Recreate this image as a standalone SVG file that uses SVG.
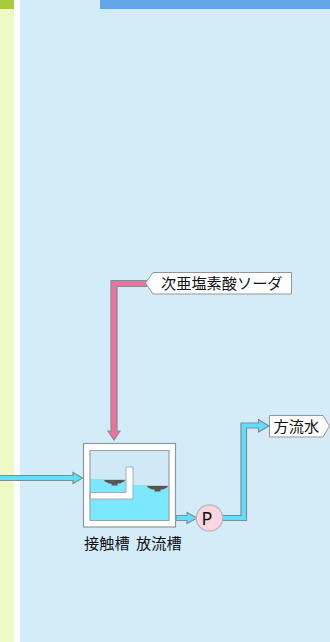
<svg xmlns="http://www.w3.org/2000/svg" width="330" height="642" viewBox="0 0 330 642">
<style>
.ln{stroke:#7f8e92;stroke-width:1.2;stroke-linejoin:miter}
.bl{fill:#62dcff}
.lb{fill:#fff;stroke:#8f9799;stroke-width:1}
.w{fill:#555}
text{font-family:"Noto Sans CJK JP","Noto Sans",sans-serif;font-size:15.2px;fill:#111}
</style>
<rect width="330" height="642" fill="#fff"/>
<rect x="20" width="310" height="642" fill="#d3ecf8"/>
<rect width="14" height="642" fill="#eefac4"/>
<rect width="14" height="9" fill="#a9c93f"/>
<rect x="100" width="230" height="9" fill="#62a6e8"/>
<g id="connectors">
<path id="inflow" class="ln bl" d="M-2 475.500H73V472.500L82.500 478L73 483.500V480.500H-2Z"/>
<path id="chem" class="ln" fill="#f0709f" d="M147 280.500V286.500H117V431H120L114 440L108 431H111V280.500H147Z"/>
<path id="out1" class="ln bl" d="M176 515.500H187V512.500L197 518L187 523.500V520.500H176Z"/>
<path id="out2" class="ln bl" d="M222 515.500H241V423H258.500V419.500L269 426L258.500 432V428H246.500V520.500H222Z"/>
</g>
<g id="tank">
<rect x="83.500" y="443.500" width="92" height="83.500" fill="#fff" stroke="#8f9799" stroke-width="1.2"/>
<rect x="90" y="450.500" width="79" height="70" fill="#cfe9f6"/>
<path d="M90 479H126V492.500H90Z" fill="#7ce8ff"/>
<path d="M133 485H169V520.500H90V499H133Z" fill="#7ce8ff"/>
<path d="M90 492.500H126V467H133V499H90Z" fill="#fff" stroke="#a3adb0" stroke-width="1"/>
<path d="M90 450.500H169V520.500H90Z" fill="none" stroke="#98a3a6" stroke-width="1.2"/>
<path class="w" d="M104 480H125L124 481.500L120 483.500H117.500V485.500H111.500V483.500H109L105 481.500Z"/>
<path class="w" d="M147 486H168L167 487.500L163 489.500H160.500V491.500H154.500V489.500H152L148 487.500Z"/>
</g>
<g id="pump">
<circle cx="209.500" cy="518" r="13.200" fill="#fdd5e0" stroke="#b4babc" stroke-width="1.3"/>
<text x="201.500" y="525" style="font-family:'Noto Sans',sans-serif;font-size:18px">P</text>
</g>
<g id="label-tank"><text y="549"><tspan x="84">接触槽</tspan><tspan x="136">放流槽</tspan></text></g>
<g id="label-chem">
<path class="lb" d="M145.500 283L153 272.500H291.500V294H153Z"/>
<text x="161" y="289">次亜塩素酸ソーダ</text>
</g>
<g id="label-water">
<path class="lb" d="M269.500 415.500H323L329.500 426L323 437H269.500Z"/>
<text x="273.500" y="432">方流水</text>
</g>
</svg>
